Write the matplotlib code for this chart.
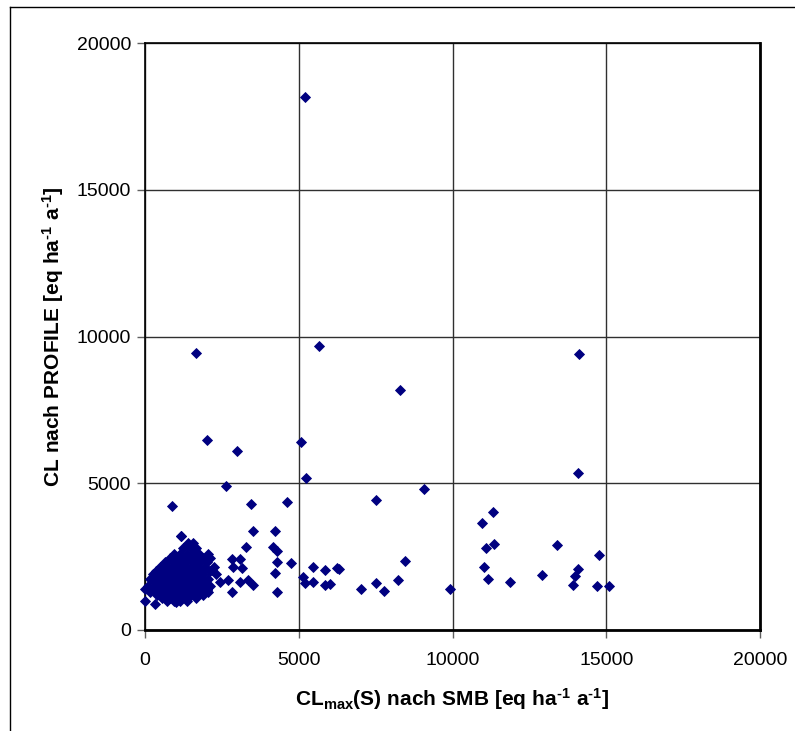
import matplotlib
matplotlib.use("Agg")
import matplotlib.pyplot as plt
from matplotlib.lines import Line2D

plt.rcParams['font.family'] = ['Liberation Sans', 'DejaVu Sans']
plt.rcParams['mathtext.fontset'] = 'custom'
plt.rcParams['mathtext.rm'] = 'Liberation Sans:bold'
plt.rcParams['mathtext.bf'] = 'Liberation Sans:bold'
plt.rcParams['mathtext.it'] = 'Liberation Sans:bold'

# ---- data: outlying points ----
x_outer = [5203, 1659, 5650, 14130, 8290, 2020, 2990, 5060, 5236, 14075, 2620, 890,
           4608, 3437, 9083, 7502, 11328, 10970, 13388, 11339, 11079, 14754, 8445,
           6298, 11024, 14070, 13973, 12921, 8228, 7502, 6016, 11154, 11870, 13919,
           14699, 15079, 7024, 7762, 9919,
           3501, 4228, 1181, 3285, 4173, 4300, 4748, 4282, 4228, 2818, 3089, 3144,
           2873, 2439, 2710, 3089, 3360, 3523, 2818, 4282, 5474, 5149, 5854, 6233,
           5854, 5203, 5474, 2060, 2168, 2005]
y_outer = [18160, 9450, 9660, 9420, 8170, 6460, 6090, 6420, 5175, 5360, 4890, 4225,
           4371, 4282, 4800, 4429, 4010, 3635, 2885, 2930, 2783, 2567, 2351,
           2089, 2147, 2089, 1829, 1874, 1704, 1601, 1567, 1727, 1647, 1545,
           1511, 1499, 1385, 1329, 1385,
           3373, 3373, 3214, 2839, 2839, 2700, 2294, 2328, 1953, 2419, 2419, 2101,
           2158, 1647, 1704, 1647, 1704, 1533, 1306, 1284, 2158, 1817, 2044, 2101,
           1533, 1590, 1647, 2498, 2044, 1363]

# ---- data: dense cluster near the origin ----
x_cluster = [1180,
             1400, 1550,
             1250, 1500, 1650,
             950, 1150, 1350, 1600, 1750, 2050,
             800, 1000, 1200, 1450, 1700, 1900, 2100,
             650, 900, 1100, 1300, 1550, 1800, 2000,
             500, 750, 950, 1150, 1350, 1500, 1700, 1950, 2250,
             350, 600, 850, 1050, 1250, 1450, 1650, 1850, 2100,
             250, 500, 700, 900, 1100, 1300, 1500, 1700, 1900, 2300,
             150, 400, 650, 800, 1000, 1200, 1400, 1600, 1800, 2050,
             300, 550, 750, 950, 1150, 1350, 1550, 1750, 1950,
             100, 450, 700, 850, 1050, 1250, 1450, 1650, 1850, 2100,
             0, 250, 600, 800, 1000, 1200, 1400, 1600, 1800, 2000,
             150, 500, 700, 900, 1100, 1300, 1500, 1750, 2050,
             400, 650, 850, 1050, 1250, 1450, 1650, 1900,
             550, 800, 1000, 1200, 1400, 1650,
             0, 700, 950, 1150, 1350,
             320, 1000]
y_cluster = [3200,
             2950, 2950,
             2800, 2800, 2800,
             2600, 2600, 2600, 2600, 2600, 2600,
             2450, 2450, 2450, 2450, 2450, 2450, 2450,
             2300, 2300, 2300, 2300, 2300, 2300, 2300,
             2150, 2150, 2150, 2150, 2150, 2150, 2150, 2150, 2150,
             2000, 2000, 2000, 2000, 2000, 2000, 2000, 2000, 2000,
             1900, 1900, 1900, 1900, 1900, 1900, 1900, 1900, 1900, 1900,
             1750, 1750, 1750, 1750, 1750, 1750, 1750, 1750, 1750, 1750,
             1650, 1650, 1650, 1650, 1650, 1650, 1650, 1650, 1650,
             1500, 1500, 1500, 1500, 1500, 1500, 1500, 1500, 1500, 1500,
             1400, 1400, 1400, 1400, 1400, 1400, 1400, 1400, 1400, 1400,
             1300, 1300, 1300, 1300, 1300, 1300, 1300, 1300, 1300,
             1200, 1200, 1200, 1200, 1200, 1200, 1200, 1200,
             1100, 1100, 1100, 1100, 1100, 1100,
             1000, 1000, 1000, 1000, 1000,
             870, 950]

ticks = [0, 5000, 10000, 15000, 20000]
tick_labels = ["0", "5000", "10000", "15000", "20000"]

fig = plt.figure(figsize=(7.95, 7.31), dpi=100)
ax = fig.add_axes([145/795, (731-630)/731, (760-145)/795, (630-43)/731])

mcol = '#000080'
ax.plot(x_cluster, y_cluster, linestyle='none', marker='D', ms=4.8,
        mfc=mcol, mec=mcol, mew=0.6, zorder=3, clip_on=False)
ax.plot(x_outer, y_outer, linestyle='none', marker='D', ms=4.8,
        mfc=mcol, mec=mcol, mew=0.6, zorder=3, clip_on=False)

ax.set_xlim(0, 20000)
ax.set_ylim(0, 20000)
ax.set_xticks(ticks)
ax.set_xticklabels(tick_labels)
ax.set_yticks(ticks)
ax.set_yticklabels(tick_labels)
ax.grid(True, color='#303030', linewidth=1.0, zorder=1)
ax.set_axisbelow(True)
ax.tick_params(direction='out', length=6, width=1, color='#606060',
               labelsize=14)
ax.tick_params(axis='x', pad=10)
ax.tick_params(axis='y', pad=4)
for side in ['left', 'top']:
    ax.spines[side].set_linewidth(1.2)
    ax.spines[side].set_color('black')
for side in ['right', 'bottom']:
    ax.spines[side].set_linewidth(2.0)
    ax.spines[side].set_color('black')

ax.set_xlabel(r"$\mathrm{CL_{max}(S)\ nach\ SMB\ [eq\ ha^{\text{-}1}\ a^{\text{-}1}]}$",
              fontsize=15, labelpad=12)
ax.set_ylabel(r"$\mathrm{CL\ nach\ PROFILE\ [eq\ ha^{\text{-}1}\ a^{\text{-}1}]}$",
              fontsize=15, labelpad=8)

# outer frame lines (left and top) as in the screenshot
fig.add_artist(Line2D([10/795, 10/795], [0, 1 - 7/731], color='black', lw=1.0,
                      transform=fig.transFigure))
fig.add_artist(Line2D([10/795, 1], [1 - 7/731, 1 - 7/731], color='black', lw=1.0,
                      transform=fig.transFigure))

fig.savefig("out.png", dpi=100)
